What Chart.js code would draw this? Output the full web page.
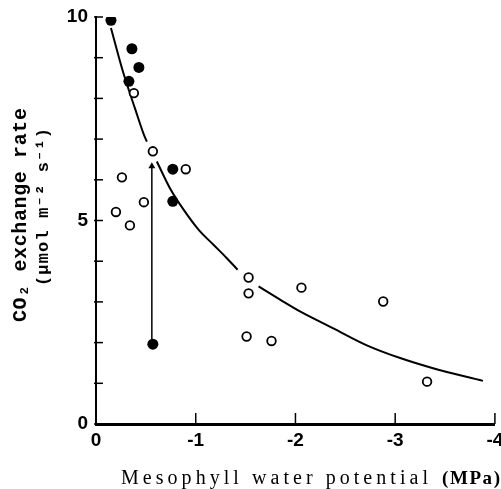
<!DOCTYPE html>
<html>
<head>
<meta charset="utf-8">
<title>CO2 exchange rate vs mesophyll water potential</title>
<script src="https://cdn.jsdelivr.net/npm/chart.js@4.4.1/dist/chart.umd.min.js"></script>
<style>
  html, body { margin: 0; padding: 0; background: #fff; }
  #wrap { width: 501px; height: 489px; position: relative; }
</style>
</head>
<body>
<div id="wrap"><canvas id="co2Chart"></canvas></div>
<script>
// filled circles
const filledX = [-0.15, -0.36, -0.43, -0.33, -0.77, -0.77, -0.57];
const filledY = [9.92, 9.22, 8.76, 8.42, 6.26, 5.47, 1.96];

// open circles
const openX = [-0.38, -0.57, -0.90, -0.26, -0.48, -0.20, -0.34, -1.53, -1.53, -1.51, -1.76, -2.06, -2.88, -3.32];
const openY = [8.13, 6.70, 6.26, 6.06, 5.45, 5.21, 4.88, 3.60, 3.21, 2.15, 2.04, 3.35, 3.01, 1.04];

// fitted curve as drawn in the figure (null = gap in the line)
const curveX = [-0.15, -0.27, -0.39, -0.48, -0.51, -0.56, -0.61, -0.74, -0.88, -1.03, -1.18, -1.31, -1.42, -1.53, -1.63, -1.85, -2.05, -2.38, -2.71, -3.05, -3.38, -3.88];
const curveY = [9.73, 8.66, 7.76, 7.11, 6.94, null, 6.45, 5.80, 5.26, 4.77, 4.40, 4.08, 3.79, null, 3.38, 3.05, 2.76, 2.35, 1.94, 1.62, 1.37, 1.06];

// arrow from the filled point up to the open point
const arrowX = [-0.56, -0.56];
const arrowY = [1.96, 6.33];

const labelledY = [0, 5, 10];

const toPoints = (xs, ys) => xs.map((x, i) => ({ x: x, y: ys[i] }));

// tick marks pointing into the plot
const insideTicks = {
  id: 'insideTicks',
  afterDatasetsDraw(chart) {
    const { ctx, scales: { x, y } } = chart;
    ctx.save();
    ctx.strokeStyle = '#000';
    ctx.lineWidth = 1.5;
    x.ticks.forEach(t => {
      const px = x.getPixelForValue(t.value);
      ctx.beginPath();
      ctx.moveTo(px, y.bottom);
      ctx.lineTo(px, y.bottom - 11);
      ctx.stroke();
    });
    y.ticks.forEach(t => {
      const py = y.getPixelForValue(t.value);
      ctx.beginPath();
      ctx.moveTo(x.left - 2, py);
      ctx.lineTo(x.left + 7, py);
      ctx.stroke();
    });
    ctx.restore();
  }
};

// spread characters evenly between two positions
function drawSpaced(ctx, text, x0, x1, y) {
  const chars = Array.from(text);
  const widths = chars.map(c => ctx.measureText(c).width);
  const total = widths.reduce((a, b) => a + b, 0);
  const gap = chars.length > 1 ? (x1 - x0 - total) / (chars.length - 1) : 0;
  let cx = x0;
  chars.forEach((c, i) => {
    ctx.fillText(c, cx, y);
    cx += widths[i] + gap;
  });
}

const axisTitles = {
  id: 'axisTitles',
  afterDraw(chart) {
    const ctx = chart.ctx;
    ctx.save();
    ctx.fillStyle = '#000';
    ctx.textAlign = 'left';

    // y title, two rotated lines
    ctx.textBaseline = 'middle';
    ctx.save();
    ctx.translate(21, 215);
    ctx.rotate(-Math.PI / 2);
    ctx.font = 'bold 20px "Liberation Mono", monospace';
    drawSpaced(ctx, 'CO₂ exchange rate', -107, 107, 0);
    ctx.restore();

    ctx.save();
    ctx.translate(44, 207);
    ctx.rotate(-Math.PI / 2);
    ctx.font = 'bold 17px "Liberation Mono", monospace';
    drawSpaced(ctx, '(μmol m⁻² s⁻¹)', -79, 79, 0);
    ctx.restore();

    // x title
    ctx.textBaseline = 'alphabetic';
    ctx.font = '20px "Liberation Serif", serif';
    drawSpaced(ctx, 'Mesophyll water potential', 121, 428, 484);
    ctx.font = 'bold 19px "Liberation Serif", serif';
    drawSpaced(ctx, '(MPa)', 442, 500, 484);
    ctx.restore();
  }
};

const ctxEl = document.getElementById('co2Chart');

new Chart(ctxEl, {
  type: 'scatter',
  data: {
    datasets: [
      {
        label: 'filled',
        data: toPoints(filledX, filledY),
        pointRadius: 5.5,
        pointBackgroundColor: '#000',
        pointBorderColor: '#000',
        pointBorderWidth: 0
      },
      {
        label: 'open',
        data: toPoints(openX, openY),
        pointRadius: 4.3,
        pointBackgroundColor: '#fff',
        pointBorderColor: '#000',
        pointBorderWidth: 1.8
      },
      {
        label: 'arrow',
        type: 'line',
        data: toPoints(arrowX, arrowY),
        borderColor: '#000',
        borderWidth: 1.5,
        pointStyle: 'triangle',
        pointRadius: [0, 4],
        pointBackgroundColor: '#000',
        pointBorderColor: '#000',
        pointBorderWidth: 0
      },
      {
        label: 'curve',
        type: 'line',
        data: toPoints(curveX, curveY),
        borderColor: '#000',
        borderWidth: 2,
        pointRadius: 0,
        spanGaps: false,
        cubicInterpolationMode: 'monotone'
      }
    ]
  },
  options: {
    responsive: true,
    maintainAspectRatio: false,
    animation: false,
    layout: { padding: { left: 0, right: 6, top: 17, bottom: 0 } },
    plugins: {
      legend: { display: false },
      tooltip: { enabled: false }
    },
    scales: {
      x: {
        type: 'linear',
        min: -4,
        max: 0,
        reverse: true,
        grid: { display: false, drawTicks: false },
        border: { display: true, color: '#000', width: 3 },
        ticks: {
          stepSize: 1,
          padding: 5,
          color: '#000',
          maxRotation: 0,
          font: { family: '"Liberation Sans", Arial, sans-serif', size: 19, weight: 'bold' },
          callback: v => String(v)
        },
        afterFit: s => { s.height = 65; s.paddingLeft = 0; s.paddingRight = 0; }
      },
      y: {
        type: 'linear',
        min: 0,
        max: 10,
        grid: { display: false, drawTicks: false },
        border: { display: true, color: '#000', width: 2 },
        ticks: {
          stepSize: 1,
          padding: 8,
          color: '#000',
          autoSkip: false,
          font: { family: '"Liberation Sans", Arial, sans-serif', size: 19, weight: 'bold' },
          callback: v => labelledY.includes(v) ? String(v) : ''
        },
        afterFit: s => { s.width = 96; s.paddingTop = 0; s.paddingBottom = 0; }
      }
    }
  },
  plugins: [insideTicks, axisTitles]
});
</script>
</body>
</html>
